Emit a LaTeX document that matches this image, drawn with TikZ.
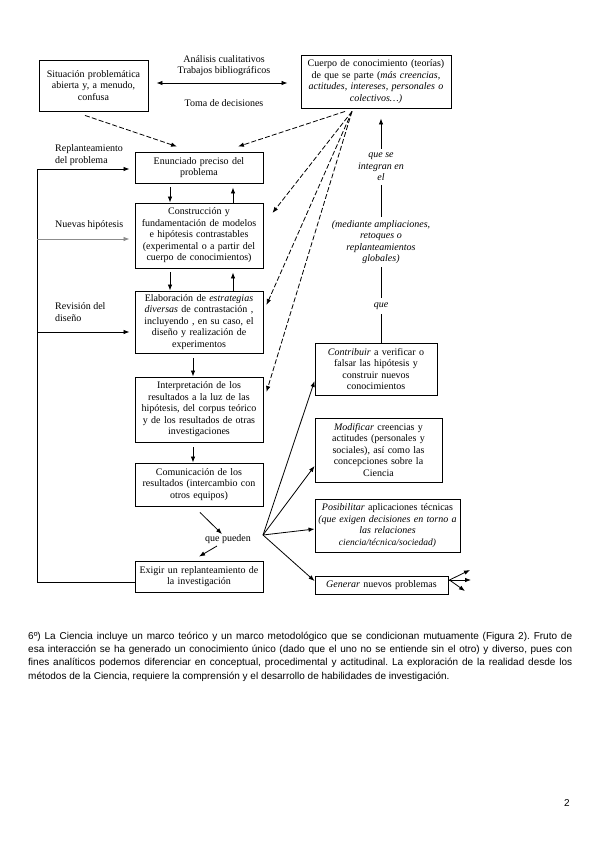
\documentclass[tikz,border=0pt]{standalone}
\usepackage{fontspec}
\setmainfont{Liberation Serif}
\newfontfamily\parafont{Liberation Sans}
\usetikzlibrary{arrows.meta}
\begin{document}
\begin{tikzpicture}[x=1pt,y=-1pt,
  every node/.style={font=\fontsize{10}{11.5}\selectfont},
  box/.style={draw, line width=0.9pt, inner sep=0pt, align=center},
  arr/.style={-{Latex[length=6pt,width=4.5pt]}, line width=0.8pt},
  dsh/.style={arr, dash pattern=on 5pt off 2.2pt},
  vlab/.style={font=\fontsize{10}{11.5}\selectfont\itshape, fill=white, align=center, inner sep=4pt},
  side/.style={anchor=west, align=left, inner sep=0pt}]
\fill[white] (0,0) rectangle (600,848);
\path[use as bounding box] (0,0) rectangle (600,848);

% boxes
\node[box, minimum width=109pt, minimum height=51pt, text width=109pt] (sit) at (93.5,85.5)
  {Situación problemática\\abierta y, a menudo,\\confusa};
\node[box, minimum width=150pt, minimum height=53pt, text width=150pt] (cuerpo) at (376,81.5)
  {Cuerpo de conocimiento (teorías)\\de que se parte (\textit{más creencias,}\\\textit{actitudes, intereses, personales o}\\\textit{colectivos…)}};
\node[box, minimum width=128pt, minimum height=31pt, text width=128pt] (enun) at (199,167.5)
  {Enunciado preciso del\\problema};
\node[box, minimum width=128pt, minimum height=65pt, text width=128pt] (cons) at (199,235.5)
  {Construcción y\\fundamentación de modelos\\e hipótesis contrastables\\(experimental o a partir del\\cuerpo de conocimientos)};
\node[box, minimum width=128pt, minimum height=62pt, text width=128pt] (elab) at (199,322)
  {Elaboración de \textit{estrategias}\\\textit{diversas} de contrastación ,\\incluyendo , en su caso, el\\diseño y realización de\\experimentos};
\node[box, minimum width=128pt, minimum height=65pt, text width=128pt] (interp) at (199,409.5)
  {Interpretación de los\\resultados a la luz de las\\hipótesis, del corpus teórico\\y de los resultados de otras\\investigaciones};
\node[box, minimum width=128pt, minimum height=43pt, text width=128pt] (comun) at (199,484.5)
  {Comunicación de los\\resultados (intercambio con\\otros equipos)};
\node[box, minimum width=128pt, minimum height=31pt, text width=128pt] (exigir) at (199,576.5)
  {Exigir un replanteamiento de\\la investigación};
\node[box, minimum width=122pt, minimum height=52pt, text width=122pt] (contrib) at (376,369)
  {\textit{Contribuir} a verificar o\\falsar las hipótesis y\\construir nuevos\\conocimientos};
\node[box, minimum width=127pt, minimum height=64pt, text width=127pt] (modif) at (378.5,450)
  {\textit{Modificar} creencias y\\actitudes (personales y\\sociales), así como las\\concepciones sobre la\\Ciencia};
\node[box, minimum width=145pt, minimum height=53pt, text width=145pt] (posib) at (387.5,525.5)
  {\textit{Posibilitar} aplicaciones técnicas\\\textit{(que exigen decisiones en torno a}\\\textit{las relaciones}\\{\fontsize{9.5}{11.5}\selectfont\textit{ciencia/técnica/sociedad)}}};
\node[box, minimum width=133pt, minimum height=18pt, text width=133pt] (generar) at (381.5,585)
  {\textit{Generar} nuevos problemas};

% top labels
\node (t1) at (224,59) {Análisis cualitativos};
\node (t2) at (224,71) {Trabajos bibliográficos};
\node (t3) at (224,103) {Toma de decisiones};
\draw[line width=0.8pt, {Latex[length=6pt,width=4.5pt]}-{Latex[length=6pt,width=4.5pt]}]
  ([xshift=8pt,yshift=2.5pt]sit.east) -- ([xshift=-13pt,yshift=-1.5pt]cuerpo.west);

% left labels
\node[side] (lr) at (55,155) {Replanteamiento\\del problema};
\node[side] (ln) at (55,225) {Nuevas hipótesis};
\node[side] (lv) at (55,312) {Revisión del\\diseño};

% loop on the left
\coordinate (lp) at (37,169);
\coordinate (nh) at (37,239);
\coordinate (rv) at (37,332);
\draw[arr] ([yshift=-5.5pt]exigir.west) -| (lp) -- ([xshift=-5pt,yshift=-1.5pt]enun.west);
\draw[arr, draw=black!45, fill=black!45] (nh) -- ([xshift=-5pt,yshift=-3.5pt]cons.west);
\draw[arr] (rv) -- ([xshift=-5pt,yshift=-10pt]elab.west);

% vertical arrows between boxes
\draw[arr] ([xshift=-29pt,yshift=-4pt]enun.south) -- ([xshift=-29pt]cons.north);
\draw[arr] ([xshift=34pt]cons.north) -- ([xshift=34pt,yshift=-4pt]enun.south);
\draw[arr] ([xshift=-29pt,yshift=-4pt]cons.south) -- ([xshift=-29pt]elab.north);
\draw[arr] ([xshift=34pt]elab.north) -- ([xshift=34pt,yshift=-4pt]cons.south);
\draw[arr] ([xshift=-6pt,yshift=-5pt]elab.south) -- ([xshift=-6pt]interp.north);
\draw[arr] ([xshift=-6pt,yshift=-5pt]interp.south) -- ([xshift=-6pt]comun.north);

% que pueden
\node[inner sep=1pt] (quep) at (228,539) {que pueden};
\draw[arr] ([xshift=1pt,yshift=-6pt]comun.south) -- ([xshift=-6pt,yshift=5pt]quep.center);
\draw[arr] ([xshift=-11pt,yshift=-7pt]quep.center) -- ([yshift=4pt]exigir.north);

% fan
\coordinate (fan) at (263,535);
\draw[arr] (fan) -- ([yshift=-12pt]contrib.west);
\draw[arr] (fan) -- ([yshift=-16pt]modif.west);
\draw[arr] (fan) -- ([yshift=-3.5pt]posib.west);
\draw[arr] (fan) -- ([yshift=4pt]generar.west);

% generar outgoing
\coordinate (g1) at (470,570);
\coordinate (g2) at (471,580);
\coordinate (g3) at (465,591);
\draw[arr] ([xshift=1pt,yshift=5pt]generar.east) -- (g1);
\draw[arr] ([xshift=1pt,yshift=5pt]generar.east) -- (g2);
\draw[arr] ([xshift=1pt,yshift=5pt]generar.east) -- (g3);

% dashed arrows
\draw[dsh] ([xshift=-8.5pt,yshift=-4pt]sit.south) -- ([xshift=-22pt,yshift=5pt]enun.north);
\draw[dsh] ([xshift=-31pt,yshift=-3pt]cuerpo.south) -- ([xshift=39pt,yshift=5pt]enun.north);
\draw[dsh] ([xshift=-24pt,yshift=-3pt]cuerpo.south) -- ([xshift=9pt,yshift=22.5pt]cons.east);
\draw[dsh] ([xshift=-24pt,yshift=-3pt]cuerpo.south) -- ([xshift=3pt,yshift=17pt]elab.east);
\draw[dsh] ([xshift=-24pt,yshift=-3pt]cuerpo.south) -- ([xshift=3pt,yshift=17.5pt]interp.east);

% right vertical
\draw[arr] ([xshift=5pt]contrib.north) -- ([xshift=5pt,yshift=-10pt]cuerpo.south);
\node[vlab] (v1) at (381,167) {que se\\integran en\\el};
\node[vlab, inner sep=3pt] (v2) at (381,242) {(mediante ampliaciones,\\retoques o\\replanteamientos\\globales)};
\node[vlab, inner sep=5pt] (v3) at (381,306) {que};

% paragraph
\node[anchor=base west, inner sep=0pt, align=left, font=\parafont\fontsize{10}{13.3}\selectfont\frenchspacing] (para) at (28,679)
  {\makebox[544pt][s]{6º) La Ciencia incluye un marco teórico y un marco metodológico que se condicionan mutuamente (Figura 2). Fruto de}\\
   \makebox[544pt][s]{esa interacción se ha generado un conocimiento único (dado que el uno no se entiende sin el otro) y diverso, pues con}\\
   \makebox[544pt][s]{fines analíticos podemos diferenciar en conceptual, procedimental y actitudinal. La exploración de la realidad desde los}\\
   métodos de la Ciencia, requiere la comprensión y el desarrollo de habilidades de investigación.};
\node[font=\parafont\fontsize{10}{12}\selectfont] (pg) at (567,803) {2};
\end{tikzpicture}
\end{document}
